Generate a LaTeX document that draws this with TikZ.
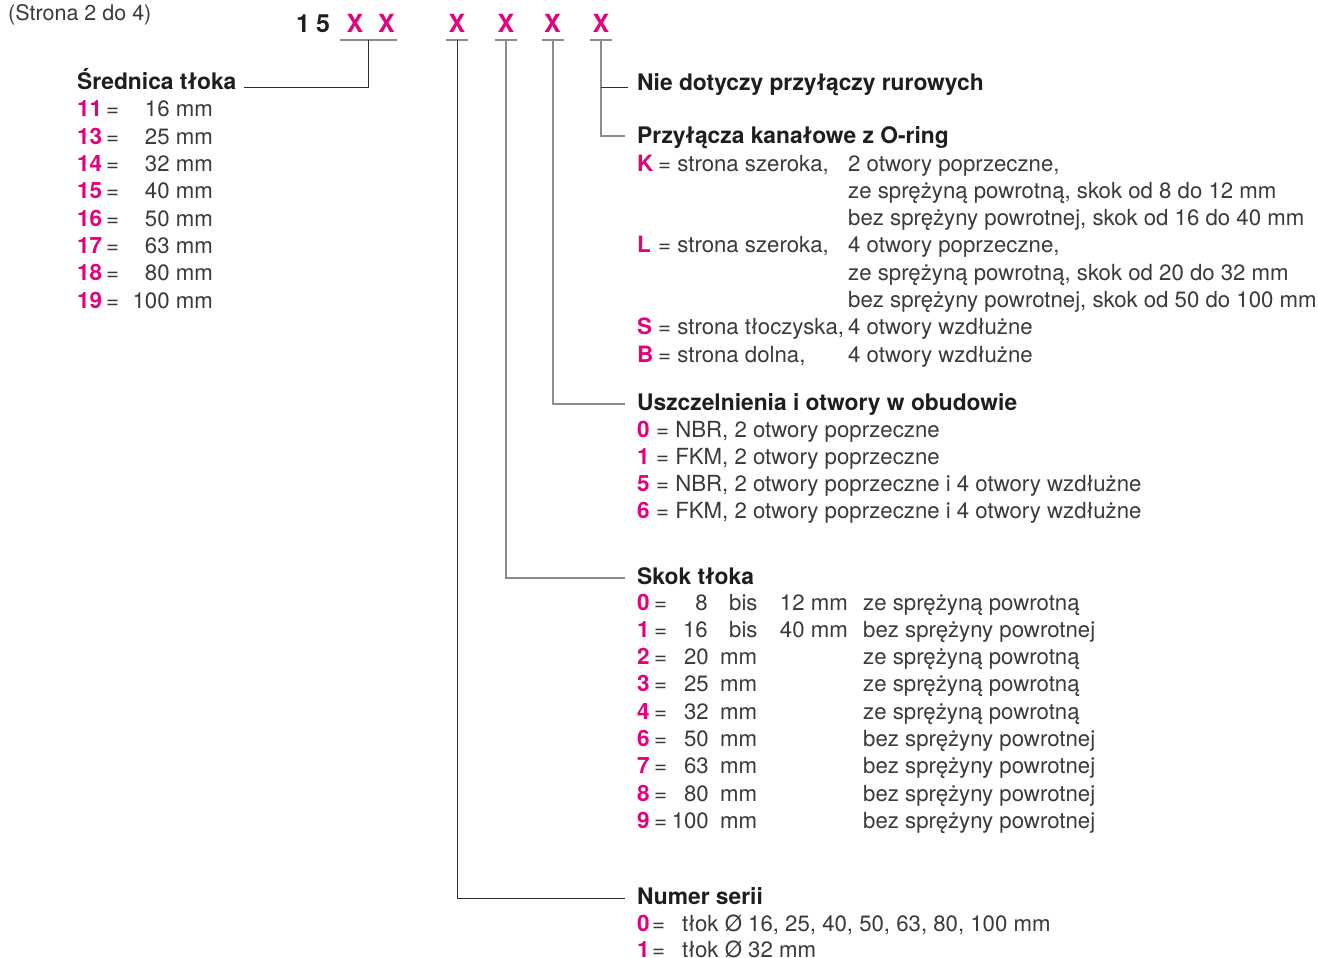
\documentclass[tikz,border=0pt]{standalone}
\usepackage{fontspec}
\setmainfont{TeX Gyre Heros}
\definecolor{mag}{HTML}{E5007D}
\definecolor{txt}{HTML}{3A3A3A}
\definecolor{hd}{HTML}{1E1E1E}
\definecolor{ln}{HTML}{8C8C8C}
\definecolor{lnd}{HTML}{2E2E2E}
\tikzset{
  body/.style={anchor=base west, inner sep=0pt, font=\fontsize{22.2}{26}\selectfont, text=txt},
  bodyr/.style={body, anchor=base east},
  head/.style={anchor=base west, inner sep=0pt, font=\fontsize{22.8}{27}\selectfont\bfseries, text=hd},
  code/.style={anchor=base west, inner sep=0pt, font=\fontsize{22.5}{26}\selectfont\bfseries, text=mag},
  xcode/.style={anchor=base, inner sep=0pt, font=\fontsize{25}{30}\selectfont\bfseries, text=mag},
  fixed/.style={anchor=base, inner sep=0pt, font=\fontsize{25}{30}\selectfont\bfseries, text=hd},
  uline/.style={draw=ln, line width=1.4pt},
  conn/.style={draw=ln, line width=1.1pt},
  connd/.style={draw=lnd, line width=1pt},
}
\begin{document}
\begin{tikzpicture}[x=1pt,y=-1pt]
\useasboundingbox (0,0) rectangle (1318,958);

% page note
\node[body, font=\fontsize{21.5}{25}\selectfont] (page) at (8,21) {(Strona 2 do 4)};

% type code
\node[fixed] (d1) at (303,33) {1};
\node[fixed] (d5) at (323,33) {5};
\node[xcode] (x1) at (355,33) {X};
\node[xcode] (x2) at (386.5,33) {X};
\node[xcode] (x3) at (457,33) {X};
\node[xcode] (x4) at (506,33) {X};
\node[xcode] (x5) at (552.5,33) {X};
\node[xcode] (x6) at (601,33) {X};

\coordinate (uA) at (368,40);
\coordinate (uB) at (457,40);
\coordinate (uC) at (506,40);
\coordinate (uD) at (553,40);
\coordinate (uE) at (601,40);

\draw[uline] (340,40) -- (397,40);
\foreach \c in {uB,uC,uD,uE} \draw[uline] ([xshift=-11pt]\c) -- ([xshift=11pt]\c);

% ---------- Srednica tloka
\node[head] (sred) at (77,90) {Średnica tłoka};
\foreach \n/\v [count=\i from 0] in {11/16 mm,13/25 mm,14/32 mm,15/40 mm,16/50 mm,17/63 mm,18/80 mm,19/100 mm}{
  \node[code] (sn\i) at (77,117+27.3*\i) {\n};
  \node[body] (se\i) at (106,117+27.3*\i) {=};
  \node[bodyr] (sv\i) at (213,117+27.3*\i) {\v};
}

% ---------- right side headings
\node[head] (nie) at (637,91) {Nie dotyczy przyłączy rurowych};
\node[head] (przy) at (637,143) {Przyłącza kanałowe z O-ring};
\node[head] (usz) at (637,410) {Uszczelnienia i otwory w obudowie};
\node[head] (skok) at (637,584) {Skok tłoka};
\node[head] (num) at (637,904) {Numer serii};

% ---------- Przylacza
\node[code] (pk) at (637,171) {K};
\node[body] (pk1) at (658,171) {= strona szeroka,};
\node[body] (pk2) at (848,171) {2 otwory poprzeczne,};
\node[body] (pk3) at (848,198.3) {ze sprężyną powrotną, skok od 8 do 12 mm};
\node[body] (pk4) at (848,225.6) {bez sprężyny powrotnej, skok od 16 do 40 mm};
\node[code] (pl) at (637,252.9) {L};
\node[body] (pl1) at (658,252.9) {= strona szeroka,};
\node[body] (pl2) at (848,252.9) {4 otwory poprzeczne,};
\node[body] (pl3) at (848,280.2) {ze sprężyną powrotną, skok od 20 do 32 mm};
\node[body] (pl4) at (848,307.5) {bez sprężyny powrotnej, skok od 50 do 100 mm};
\node[code] (ps) at (637,334.8) {S};
\node[body] (ps1) at (658,334.8) {= strona tłoczyska,};
\node[body] (ps2) at (848,334.8) {4 otwory wzdłużne};
\node[code] (pb) at (637,362.1) {B};
\node[body] (pb1) at (658,362.1) {= strona dolna,};
\node[body] (pb2) at (848,362.1) {4 otwory wzdłużne};

% ---------- Uszczelnienia
\foreach \n/\v [count=\i from 0] in {0/NBR{,} 2 otwory poprzeczne,1/FKM{,} 2 otwory poprzeczne,5/NBR{,} 2 otwory poprzeczne i 4 otwory wzdłużne,6/FKM{,} 2 otwory poprzeczne i 4 otwory wzdłużne}{
  \node[code] (un\i) at (637,437+27.3*\i) {\n};
  \node[body] (uv\i) at (656,437+27.3*\i) {= \v};
}

% ---------- Skok tloka
\foreach \n/\a/\d [count=\i from 0] in {0/8/ze sprężyną powrotną,1/16/bez sprężyny powrotnej}{
  \node[code] (kn\i) at (637,610+27.3*\i) {\n};
  \node[body] (ke\i) at (654,610+27.3*\i) {=};
  \node[bodyr] (ka\i) at (708,610+27.3*\i) {\a};
  \node[body] (kb\i) at (729,610+27.3*\i) {bis};
  \node[body] (kd\i) at (863,610+27.3*\i) {\d};
}
\node[bodyr] (kc0) at (848,610) {12 mm};
\node[bodyr] (kc1) at (848,637.3) {40 mm};
\foreach \n/\a/\d [count=\i from 2] in {2/20/ze sprężyną powrotną,3/25/ze sprężyną powrotną,4/32/ze sprężyną powrotną,6/50/bez sprężyny powrotnej,7/63/bez sprężyny powrotnej,8/80/bez sprężyny powrotnej,9/100/bez sprężyny powrotnej}{
  \node[code] (kn\i) at (637,610+27.3*\i) {\n};
  \node[body] (ke\i) at (654,610+27.3*\i) {=};
  \node[bodyr] (ka\i) at (709,610+27.3*\i) {\a};
  \node[body] (kb\i) at (720,610+27.3*\i) {mm};
  \node[body] (kd\i) at (863,610+27.3*\i) {\d};
}

% ---------- Numer serii
\node[code] (nn0) at (637,931) {0};
\node[body] (ne0) at (652,931) {=};
\node[body] (nv0) at (682,931) {tłok Ø 16, 25, 40, 50, 63, 80, 100 mm};
\node[code] (nn1) at (637,957) {1};
\node[body] (ne1) at (652,957) {=};
\node[body] (nv1) at (682,957) {tłok Ø 32 mm};

% ---------- connectors
\coordinate (nieL) at ([xshift=-9pt,yshift=3pt]nie.base west);
\draw[connd] (uA) |- ([xshift=7pt,yshift=2pt]sred.base east);
\draw[connd] (uB) |- ([xshift=-12pt,yshift=6pt]num.base west);
\draw[conn] (uC) |- ([xshift=-12pt,yshift=6pt]skok.base west);
\draw[conn] (uD) |- ([xshift=-12pt,yshift=6pt]usz.base west);
\draw[conn] (uE) |- ([xshift=-12pt,yshift=7pt]przy.base west);
\draw[connd] (nieL) -- (uE |- nieL);
\end{tikzpicture}
\end{document}
